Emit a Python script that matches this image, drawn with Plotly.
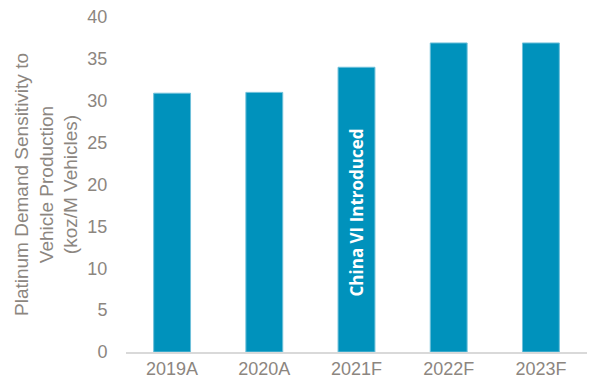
import plotly.graph_objects as go

categories = ["2019A", "2020A", "2021F", "2022F", "2023F"]
values = [30.9, 31.0, 34.0, 36.9, 36.9]
annotation_text = "China VI Introduced"
annotation_cat = "2021F"
annotation_y = 16.6
y_title = "Platinum Demand Sensitivity to<br>Vehicle Production<br>(koz/M Vehicles)"

bar_color = "#0092BC"
text_color = "#8C867F"

fig = go.Figure()
fig.add_trace(go.Bar(x=categories, y=values, marker=dict(color=bar_color, line=dict(width=1, color="#6FC0DA"))))

fig.add_annotation(x=annotation_cat, y=annotation_y, text=annotation_text, textangle=-90,
                   showarrow=False, font=dict(family="Open Sans", size=17, color="white", weight="bold"))

fig.update_layout(
    width=592, height=385,
    margin=dict(l=126, r=5, t=17, b=33),
    paper_bgcolor="white", plot_bgcolor="white",
    bargap=0.6, showlegend=False,
    font=dict(family="Liberation Sans", size=18, color=text_color),
)
fig.update_xaxes(showline=True, linecolor="#D9D9D9", linewidth=1.5, ticks="", tickfont=dict(size=18, color=text_color))
fig.update_yaxes(range=[0, 40], dtick=5, showgrid=False, zeroline=False, showline=False,
                 ticks="outside", ticklen=14, tickcolor="rgba(0,0,0,0)",
                 tickfont=dict(size=18, color=text_color),
                 title=dict(text=y_title, font=dict(size=19, color=text_color), standoff=4))

fig.write_html("out.html")
